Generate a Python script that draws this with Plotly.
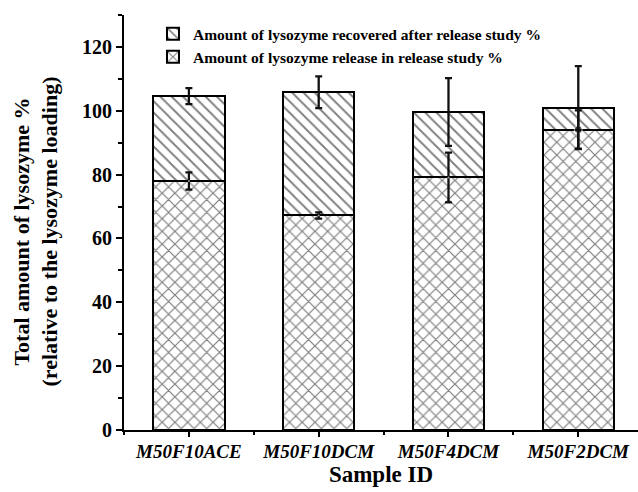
import plotly.graph_objects as go

samples = ["M50F10ACE", "M50F10DCM", "M50F4DCM", "M50F2DCM"]
released = [78.0, 67.2, 79.1, 94.1]
released_err = [2.7, 1.0, 7.8, 6.0]
total = [104.6, 105.8, 99.6, 101.0]
total_err = [2.5, 5.0, 10.6, 13.0]
recovered = [t - r for t, r in zip(total, released)]

FONT = "Liberation Serif"
xpos = list(range(len(samples)))

fig = go.Figure()
fig.add_trace(go.Bar(
    x=xpos, y=released, width=0.55,
    name="Amount of lysozyme release in release study %",
    marker=dict(color="white", line=dict(color="black", width=2),
                pattern=dict(shape="x", fgcolor="black", bgcolor="white", size=9, solidity=0.25)),
))
fig.add_trace(go.Bar(
    x=xpos, y=recovered, width=0.55,
    name="Amount of lysozyme recovered after release study %",
    marker=dict(color="white", line=dict(color="black", width=2),
                pattern=dict(shape="\\", fgcolor="black", bgcolor="white", size=8, solidity=0.23)),
))
# error bars drawn on top of both segments
fig.add_trace(go.Scatter(
    x=xpos, y=released, mode="markers", showlegend=False, hoverinfo="skip",
    marker=dict(size=[1, 1, 1, 8], color="#111"),
    error_y=dict(type="data", array=released_err, color="#111", thickness=2.3, width=3.5),
))
fig.add_trace(go.Scatter(
    x=xpos, y=total, mode="markers", showlegend=False, hoverinfo="skip",
    marker=dict(size=1, color="#111"),
    error_y=dict(type="data", array=total_err, color="#111", thickness=2.3, width=3.5),
))

fig.update_layout(
    width=638, height=492,
    margin=dict(l=124, r=0, t=15, b=62),
    barmode="stack",
    plot_bgcolor="white", paper_bgcolor="white",
    font=dict(family=FONT, color="black"),
    legend=dict(traceorder="reversed", x=0.0564, y=0.995, xanchor="left", yanchor="top",
                bgcolor="rgba(0,0,0,0)", font=dict(family=FONT, size=15.5, color="black", weight="bold"),
                tracegroupgap=0, itemwidth=30),
    xaxis=dict(
        range=[-0.5, 3.46], tickmode="array", tickvals=xpos, ticktext=samples,
        tickfont=dict(family=FONT, size=19, style="italic", weight="bold"),
        showline=True, linecolor="black", linewidth=2, ticks="outside", ticklen=5, tickwidth=2,
        tickcolor="black", showgrid=False, zeroline=False, ticklabelstandoff=-2,
        minor=dict(tick0=0.5, dtick=1, ticks="outside", ticklen=3, tickwidth=2, tickcolor="black"),
        title=dict(text="Sample ID", font=dict(family=FONT, size=23, weight="bold"), standoff=4),
    ),
    yaxis=dict(
        range=[0, 130], tickmode="linear", tick0=0, dtick=20,
        tickfont=dict(family=FONT, size=20, weight="bold"),
        showline=True, linecolor="black", linewidth=2, ticks="outside", ticklen=6, tickwidth=2,
        tickcolor="black", showgrid=False, zeroline=False,
        minor=dict(tick0=10, dtick=20, ticks="outside", ticklen=4, tickwidth=2, tickcolor="black"),
    ),
    annotations=[dict(
        text="Total amount of lysozyme %<br>(relative to the lysozyme loading)",
        xref="paper", yref="paper", x=0, y=0.5, xanchor="center", yanchor="middle",
        xshift=-89, yshift=-9, textangle=-90, showarrow=False,
        font=dict(family=FONT, size=22, weight="bold", color="black"),
    )],
)

fig.write_html("out.html")
